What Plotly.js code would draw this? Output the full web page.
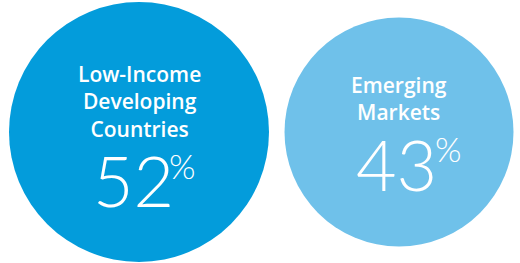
<!DOCTYPE html>
<html>
<head>
<meta charset="utf-8">
<script src="https://cdn.plot.ly/plotly-3.0.1.min.js"></script>
<style>html,body{margin:0;padding:0;background:#fff;}#chart{width:520px;height:263px;}</style>
</head>
<body>
<div id="chart"></div>
<script>
// Data
var categories = ["Low-Income<br>Developing<br>Countries", "Emerging<br>Markets"];
var values = [52, 43];
var valueLabels = ["52", "43"];

// Styling / layout (not data)
var colors = ["#039cdb", "#6fc1ea"];
var centersX = [139, 399];
var centerY = 132;
var diameters = [260, 229];
var labelYc = [101, 98];
var numberX = [133, 396];
var numberY = [180, 164];
var pctX = [182, 448];
var pctY = [165, 148];

var trace = {
  type: "scatter",
  mode: "markers",
  x: centersX,
  y: [centerY, centerY],
  marker: {size: diameters, color: colors, line: {width: 0}, opacity: 1},
  customdata: values,
  hoverinfo: "skip",
  cliponaxis: false
};

var annotations = [];
for (var i = 0; i < categories.length; i++) {
  annotations.push({
    x: centersX[i], y: labelYc[i], xref: "x", yref: "y",
    text: categories[i],
    showarrow: false, align: "center",
    font: {family: "Open Sans", size: 21, color: "#ffffff", weight: 600},
    xanchor: "center", yanchor: "middle"
  });
  annotations.push({
    x: numberX[i], y: numberY[i], xref: "x", yref: "y",
    text: valueLabels[i],
    showarrow: false,
    font: {family: "Lato", size: 70, color: "#ffffff", weight: 300},
    xanchor: "center", yanchor: "middle"
  });
  annotations.push({
    x: pctX[i], y: pctY[i], xref: "x", yref: "y",
    text: "%",
    showarrow: false,
    font: {family: "Lato", size: 34, color: "#ffffff", weight: 300},
    xanchor: "center", yanchor: "middle"
  });
}

var layout = {
  width: 520, height: 263,
  margin: {l: 0, r: 0, t: 0, b: 0},
  paper_bgcolor: "#ffffff", plot_bgcolor: "#ffffff",
  showlegend: false,
  xaxis: {range: [0, 520], visible: false, fixedrange: true},
  yaxis: {range: [263, 0], visible: false, fixedrange: true},
  annotations: annotations
};

Plotly.newPlot("chart", [trace], layout, {displayModeBar: false, staticPlot: true});
</script>
</body>
</html>
